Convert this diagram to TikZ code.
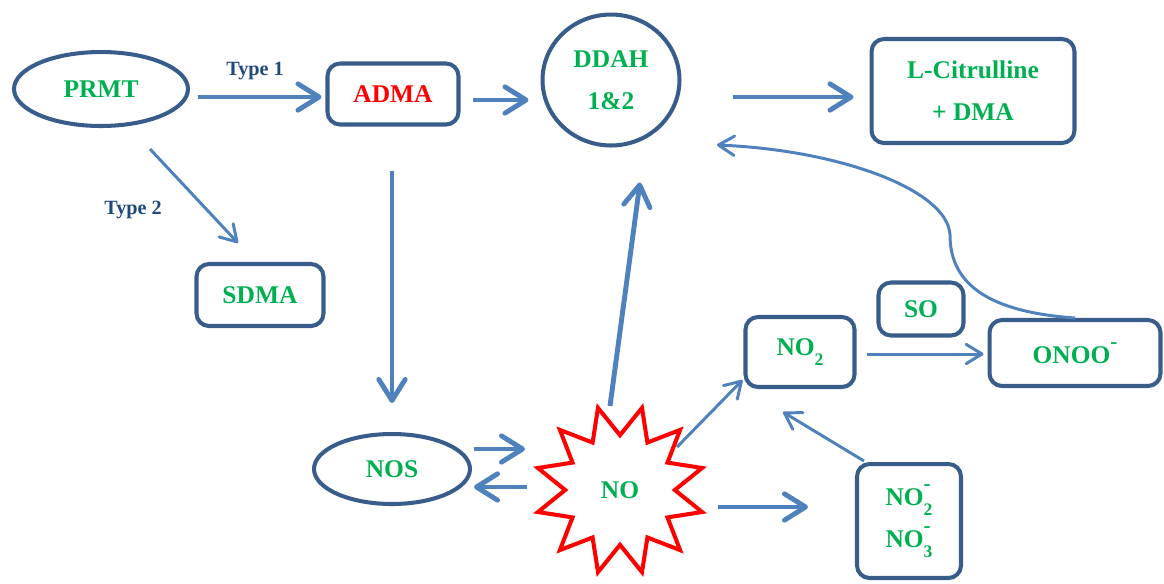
\documentclass[tikz,border=0pt]{standalone}
\usepackage{fontspec}
\setmainfont{Liberation Serif}
\usetikzlibrary{shapes.geometric,arrows.meta}
\definecolor{nodeborder}{RGB}{56,93,138}
\definecolor{arrowblue}{RGB}{79,129,189}
\definecolor{textgreen}{RGB}{0,176,80}
\definecolor{labelblue}{RGB}{31,73,125}
\newcommand{\chemsub}[1]{\raisebox{-0.8ex}{\fontsize{10}{10}\selectfont #1}}
\newcommand{\chemsup}[1]{\raisebox{1.3ex}{\fontsize{12}{12}\selectfont #1}}
\tikzset{
    molecule/.style={draw=nodeborder, line width=2.3pt, rounded corners=0.25cm, align=center,
        text=textgreen, font=\bfseries\fontsize{14.5}{24}\selectfont},
    enzyme/.style={molecule, ellipse},
    bigarrow/.style={draw=arrowblue, line width=2.8pt, -{Straight Barb[length=12pt,width=15pt,round]}},
    thinarrow/.style={draw=arrowblue, line width=1.7pt, -{Straight Barb[length=9pt,width=11pt,round]}},
    typelabel/.style={text=labelblue, font=\bfseries\fontsize{11.5}{14}\selectfont}
}

\begin{document}
\begin{tikzpicture}[x=0.02cm, y=-0.02cm]
    \useasboundingbox (0,0) rectangle (1164,583);

    \node[enzyme, minimum width=3.48cm, minimum height=1.48cm] (prmt) at (101,89) {PRMT};
    \node[molecule, minimum width=2.62cm, minimum height=1.22cm, text=red] (adma) at (393,94) {ADMA};
    \node[enzyme, minimum width=2.74cm, minimum height=2.62cm] (ddah) at (611,80) {DDAH\\1\&2};
    \node[molecule, minimum width=4.06cm, minimum height=2.08cm] (lcit) at (973,91) {L-Citrulline\\+ DMA};
    \node[molecule, minimum width=2.54cm, minimum height=1.24cm] (sdma) at (260,295) {SDMA};
    \node[enzyme, minimum width=3.12cm, minimum height=1.4cm] (nos) at (392,469) {NOS};
    \node[star, star points=12, star point ratio=1.55, shape border rotate=-15, draw=red,
        line width=2.3pt, minimum size=3.4cm, text=textgreen,
        font=\bfseries\fontsize{14.5}{24}\selectfont] (no) at (620,490) {NO};
    \node[molecule, minimum width=2.18cm, minimum height=1.4cm] (notwo) at (800,352) {NO\chemsub{2}};
    \node[molecule, minimum width=1.7cm, minimum height=1.06cm] (so) at (921,309) {SO};
    \node[molecule, minimum width=3.42cm, minimum height=1.32cm] (onoo) at (1075,353) {ONOO\chemsup{-}};
    \node[molecule, minimum width=2.08cm, minimum height=2.28cm] (nitr) at (909,521)
        {NO\rlap{\chemsup{-}}\chemsub{2}\\NO\rlap{\chemsup{-}}\chemsub{3}};

    \node[typelabel] (type1) at (255,71) {Type 1};
    \node[typelabel] (type2) at (133,210) {Type 2};

    \draw[bigarrow] ([shift={(8,8)}]prmt.east) -- ([shift={(-4,3)}]adma.west);
    \draw[bigarrow] ([shift={(12,6)}]adma.east) -- ([shift={(-12,20)}]ddah.west);
    \draw[bigarrow] ([shift={(51,17)}]ddah.east) -- ([shift={(-16,6)}]lcit.west);
    \draw[thinarrow] ([shift={(49,21)}]prmt.south) -- ([shift={(-22,-19)}]sdma.north);
    \draw[bigarrow] ([shift={(-1,44)}]adma.south) -- ([shift={(0,-29)}]nos.north);
    \draw[bigarrow] ([shift={(2,-20)}]nos.east) -- ([shift={(-95,-41)}]no.center);
    \draw[bigarrow] ([shift={(-93,-3)}]no.center) -- ([shift={(2,18)}]nos.east);
    \draw[bigarrow] ([shift={(-10,-84)}]no.center) -- ([shift={(29,35)}]ddah.south);
    \draw[thinarrow] ([shift={(57,-43)}]no.center) -- ([shift={(-1,-9)}]notwo.south west);
    \draw[bigarrow] ([shift={(98,17)}]no.center) -- ([shift={(-47,-14)}]nitr.west);
    \draw[thinarrow] ([shift={(10,2)}]notwo.east) -- ([shift={(-4,1)}]onoo.west);
    \draw[thinarrow] ([shift={(9,-1)}]nitr.north west) -- ([shift={(-17,23)}]notwo.south);
    \draw[thinarrow] (onoo.north) .. controls (990,312) and (950,285) .. (950,235)
        .. controls (948,190) and (840,150) .. ([shift={(106,65)}]ddah.center);
\end{tikzpicture}
\end{document}
